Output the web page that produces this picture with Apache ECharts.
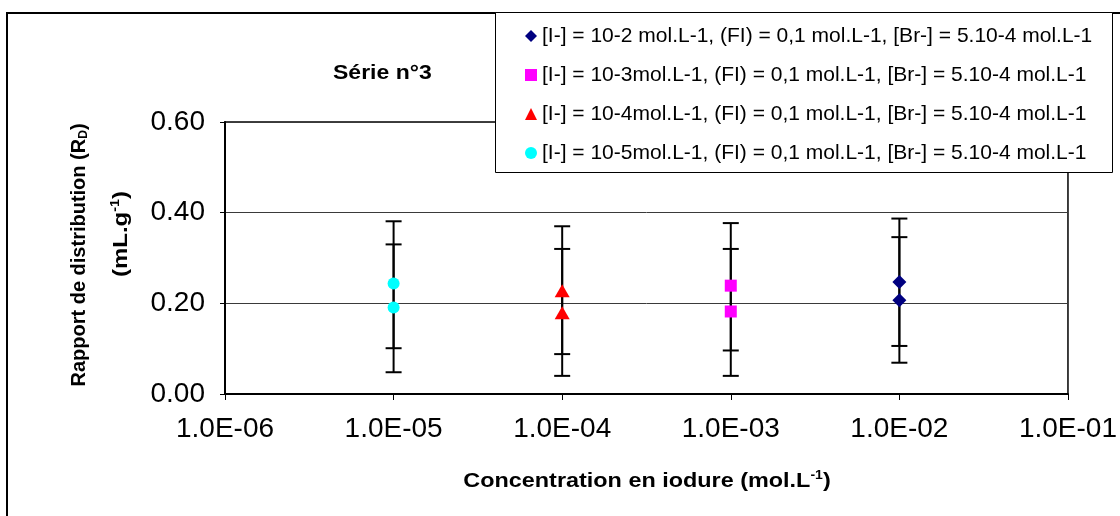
<!DOCTYPE html>
<html>
<head>
<meta charset="utf-8">
<script src="https://cdn.jsdelivr.net/npm/echarts@6/dist/echarts.min.js"></script>
<style>
  html, body { margin: 0; padding: 0; background: #fff; }
  #chart { width: 1120px; height: 516px; }
</style>
</head>
<body>
<div id="chart"></div>
<script>
// Iodide concentration (mol/L) of each series, one point per replicate
const conc_1e2 = [1e-2, 1e-2];
const conc_1e3 = [1e-3, 1e-3];
const conc_1e4 = [1e-4, 1e-4];
const conc_1e5 = [1e-5, 1e-5];

// Distribution ratio Rd (mL/g) and its error bar limits
const rd_1e2 = [0.247, 0.207];
const rdLow_1e2 = [0.106, 0.069];
const rdHigh_1e2 = [0.387, 0.346];

const rd_1e3 = [0.239, 0.182];
const rdLow_1e3 = [0.096, 0.040];
const rdHigh_1e3 = [0.377, 0.320];

const rd_1e4 = [0.228, 0.179];
const rdLow_1e4 = [0.088, 0.040];
const rdHigh_1e4 = [0.370, 0.320];

const rd_1e5 = [0.244, 0.191];
const rdLow_1e5 = [0.101, 0.048];
const rdHigh_1e5 = [0.381, 0.330];

const seriesNames = [
  '[I-] = 10-2 mol.L-1, (FI) = 0,1 mol.L-1, [Br-] = 5.10-4 mol.L-1',
  '[I-] = 10-3mol.L-1, (FI) = 0,1 mol.L-1, [Br-] = 5.10-4 mol.L-1',
  '[I-] = 10-4mol.L-1, (FI) = 0,1 mol.L-1, [Br-] = 5.10-4 mol.L-1',
  '[I-] = 10-5mol.L-1, (FI) = 0,1 mol.L-1, [Br-] = 5.10-4 mol.L-1'
];

const xTickLabels = ['1.0E-06', '1.0E-05', '1.0E-04', '1.0E-03', '1.0E-02', '1.0E-01'];
const yTickLabels = ['0.00', '0.20', '0.40', '0.60'];

const FONT = '"Liberation Sans", Arial, sans-serif';

const groups = [
  { name: seriesNames[0], x: conc_1e2, y: rd_1e2, lo: rdLow_1e2, hi: rdHigh_1e2, symbol: 'diamond', size: [14, 14], color: '#000080' },
  { name: seriesNames[1], x: conc_1e3, y: rd_1e3, lo: rdLow_1e3, hi: rdHigh_1e3, symbol: 'rect', size: [12, 12], color: '#FF00FF' },
  { name: seriesNames[2], x: conc_1e4, y: rd_1e4, lo: rdLow_1e4, hi: rdHigh_1e4, symbol: 'triangle', size: [15, 13], color: '#FF0000' },
  { name: seriesNames[3], x: conc_1e5, y: rd_1e5, lo: rdLow_1e5, hi: rdHigh_1e5, symbol: 'circle', size: [12, 12], color: '#00FFFF' }
];

// Vertical error bar with caps at both ends
function errorBarItem(params, api) {
  const x = api.value(0);
  const top = api.coord([x, api.value(2)]);
  const bot = api.coord([x, api.value(1)]);
  const half = 8;
  const style = { stroke: '#000', lineWidth: 2 };
  return {
    type: 'group',
    children: [
      { type: 'line', shape: { x1: top[0], y1: top[1], x2: bot[0], y2: bot[1] }, style: style },
      { type: 'line', shape: { x1: top[0] - half, y1: top[1], x2: top[0] + half, y2: top[1] }, style: style },
      { type: 'line', shape: { x1: bot[0] - half, y1: bot[1], x2: bot[0] + half, y2: bot[1] }, style: style }
    ]
  };
}

const series = [];
groups.forEach(function (g) {
  series.push({
    type: 'custom',
    name: g.name + ' (err)',
    renderItem: errorBarItem,
    data: g.x.map(function (xv, i) { return [xv, g.lo[i], g.hi[i]]; }),
    z: 1,
    silent: true
  });
});
groups.forEach(function (g) {
  series.push({
    type: 'scatter',
    name: g.name,
    symbol: g.symbol,
    symbolSize: g.size,
    itemStyle: { color: g.color, opacity: 1 },
    data: g.x.map(function (xv, i) { return [xv, g.y[i]]; }),
    z: 3
  });
});

const chart = echarts.init(document.getElementById('chart'), null, { renderer: 'canvas' });
chart.setOption({
  animation: false,
  backgroundColor: '#fff',
  grid: {
    left: 225, right: 50, top: 122, bottom: 122,
    show: true, borderColor: '#000', borderWidth: 1.5, backgroundColor: 'transparent'
  },
  xAxis: {
    type: 'log', logBase: 10, min: 1e-6, max: 1e-1,
    axisLine: { lineStyle: { color: '#000', width: 2 } },
    axisTick: { show: true, inside: false, length: 6, lineStyle: { color: '#000', width: 1 } },
    splitLine: { show: false },
    minorTick: { show: false },
    axisLabel: {
      color: '#000', fontFamily: FONT, fontSize: 28, margin: 21,
      formatter: function (v) { return xTickLabels[Math.round(Math.log10(v)) + 6]; }
    }
  },
  yAxis: {
    type: 'value', min: 0, max: 0.6, interval: 0.2,
    axisLine: { show: true, lineStyle: { color: '#000', width: 2 } },
    axisTick: { show: true, inside: false, length: 5, lineStyle: { color: '#000', width: 1 } },
    splitLine: { show: true, lineStyle: { color: '#3a3a3a', width: 1 } },
    axisLabel: {
      color: '#000', fontFamily: FONT, fontSize: 28, margin: 20,
      formatter: function (v) { return yTickLabels[Math.round(v / 0.2)]; }
    }
  },
  legend: {
    orient: 'vertical',
    left: 520, top: 20,
    itemWidth: 12, itemHeight: 12, itemGap: 17,
    z: 20,
    data: groups.map(function (g) { return { name: g.name, icon: g.symbol }; }),
    textStyle: { color: '#000', fontFamily: FONT, fontSize: 21, lineHeight: 22, padding: [0, 0, 0, 0] },
    itemStyle: { borderWidth: 0 }
  },
  graphic: {
    elements: [
      { type: 'rect', z: 0, silent: true,
        shape: { x: 7, y: 13, width: 1300, height: 700 },
        style: { fill: 'none', stroke: '#000', lineWidth: 2 } },
      { type: 'rect', z: 10, silent: true,
        shape: { x: 495.5, y: 12.5, width: 617, height: 160 },
        style: { fill: '#fff', stroke: '#000', lineWidth: 1 } },
      { type: 'text', z: 11, x: 333, y: 73, scaleX: 1.15,
        style: { text: 'Série n°3', fill: '#000', font: 'bold 20px ' + FONT, align: 'left', verticalAlign: 'middle' } },
      { type: 'text', z: 11, x: 79, y: 255, rotation: Math.PI / 2,
        style: {
          text: '{a|Rapport de distribution (R}{s|D}{a|)}',
          align: 'center', verticalAlign: 'middle',
          rich: {
            a: { fill: '#000', font: 'bold 20px ' + FONT, lineHeight: 24 },
            s: { fill: '#000', font: 'bold 12px ' + FONT, lineHeight: 24, padding: [9, 0, 0, 0] }
          }
        } },
      { type: 'text', z: 11, x: 121, y: 234, rotation: Math.PI / 2, scaleX: 1.2,
        style: {
          text: '{a|(mL.g}{p|-1}{a|)}',
          align: 'center', verticalAlign: 'middle',
          rich: {
            a: { fill: '#000', font: 'bold 20px ' + FONT, lineHeight: 24 },
            p: { fill: '#000', font: 'bold 12px ' + FONT, lineHeight: 24, padding: [0, 0, 11, 0] }
          }
        } },
      { type: 'text', z: 11, x: 647, y: 481, scaleX: 1.17,
        style: {
          text: '{a|Concentration en iodure (mol.L}{p|-1}{a|)}',
          align: 'center', verticalAlign: 'middle',
          rich: {
            a: { fill: '#000', font: 'bold 20px ' + FONT, lineHeight: 24 },
            p: { fill: '#000', font: 'bold 12px ' + FONT, lineHeight: 24, padding: [0, 0, 11, 0] }
          }
        } }
    ]
  },
  series: series
});
</script>
</body>
</html>
